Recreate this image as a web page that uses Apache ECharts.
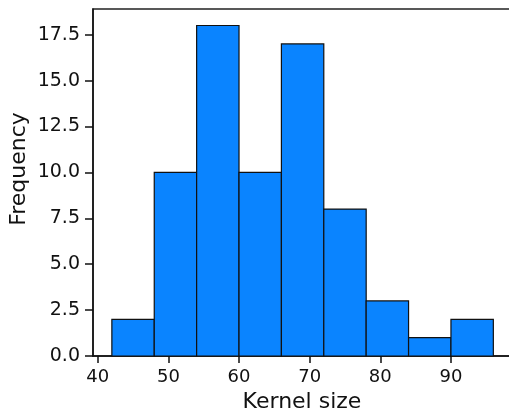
<!DOCTYPE html>
<html>
<head>
<meta charset="utf-8">
<script src="https://cdn.jsdelivr.net/npm/echarts@6/dist/echarts.min.js"></script>
<style>html,body{margin:0;padding:0;background:#fff}#c{width:509px;height:413px}</style>
</head>
<body>
<div id="c"></div>
<script>
const binStart = [42, 48, 54, 60, 66, 72, 78, 84, 90];
const binEnd   = [48, 54, 60, 66, 72, 78, 84, 90, 96];
const counts   = [2, 10, 18, 10, 17, 8, 3, 1, 2];
const xTicks = [40, 50, 60, 70, 80, 90];
const yTicks = [0, 2.5, 5, 7.5, 10, 12.5, 15, 17.5];

const chart = echarts.init(document.getElementById('c'));
const data = binStart.map((s, i) => [s, binEnd[i], counts[i]]);
const font = '"DejaVu Sans", sans-serif';
chart.setOption({
  animation: false,
  grid: { left: 93, top: 9, right: -2, bottom: 57, show: true, outerBoundsMode: 'none', containLabel: false, borderColor: '#222', borderWidth: 1.5, backgroundColor: 'transparent' },
  xAxis: {
    type: 'value', min: 39.33, max: 98.5, interval: 10,
    axisLine: { show: true, onZero: false, lineStyle: { color: '#111', width: 1.5 } },
    axisTick: { show: true, length: 7, lineStyle: { color: '#111', width: 1.5 }, customValues: xTicks },
    axisLabel: { color: '#111', fontSize: 18, fontFamily: font, margin: 12, customValues: xTicks, formatter: v => String(v) },
    splitLine: { show: false },
    name: 'Kernel size', nameLocation: 'middle', nameGap: 32,
    nameTextStyle: { color: '#111', fontSize: 22, fontFamily: font }
  },
  yAxis: {
    type: 'value', min: 0, max: 18.9,
    axisLine: { show: true, lineStyle: { color: '#111', width: 1.5 } },
    axisTick: { show: true, length: 8, lineStyle: { color: '#111', width: 1.5 }, customValues: yTicks },
    axisLabel: { color: '#111', fontSize: 19, fontFamily: font, margin: 13, customValues: yTicks, formatter: v => v.toFixed(1) },
    splitLine: { show: false }
  },
  graphic: [{
    type: 'text', x: 19, y: 169,
    style: { text: 'Frequency', fill: '#111', fontSize: 22, fontFamily: font, align: 'center', verticalAlign: 'middle' },
    rotation: Math.PI / 2
  }],
  series: [{
    type: 'custom',
    data: data,
    encode: { x: [0, 1], y: 2 },
    renderItem: function (params, api) {
      const p0 = api.coord([api.value(0), 0]);
      const p1 = api.coord([api.value(1), api.value(2)]);
      return {
        type: 'rect',
        shape: { x: p0[0], y: p1[1], width: p1[0] - p0[0], height: p0[1] - p1[1] },
        style: { fill: '#0a84ff', stroke: '#111', lineWidth: 1.2 }
      };
    }
  }]
});
</script>
</body>
</html>
